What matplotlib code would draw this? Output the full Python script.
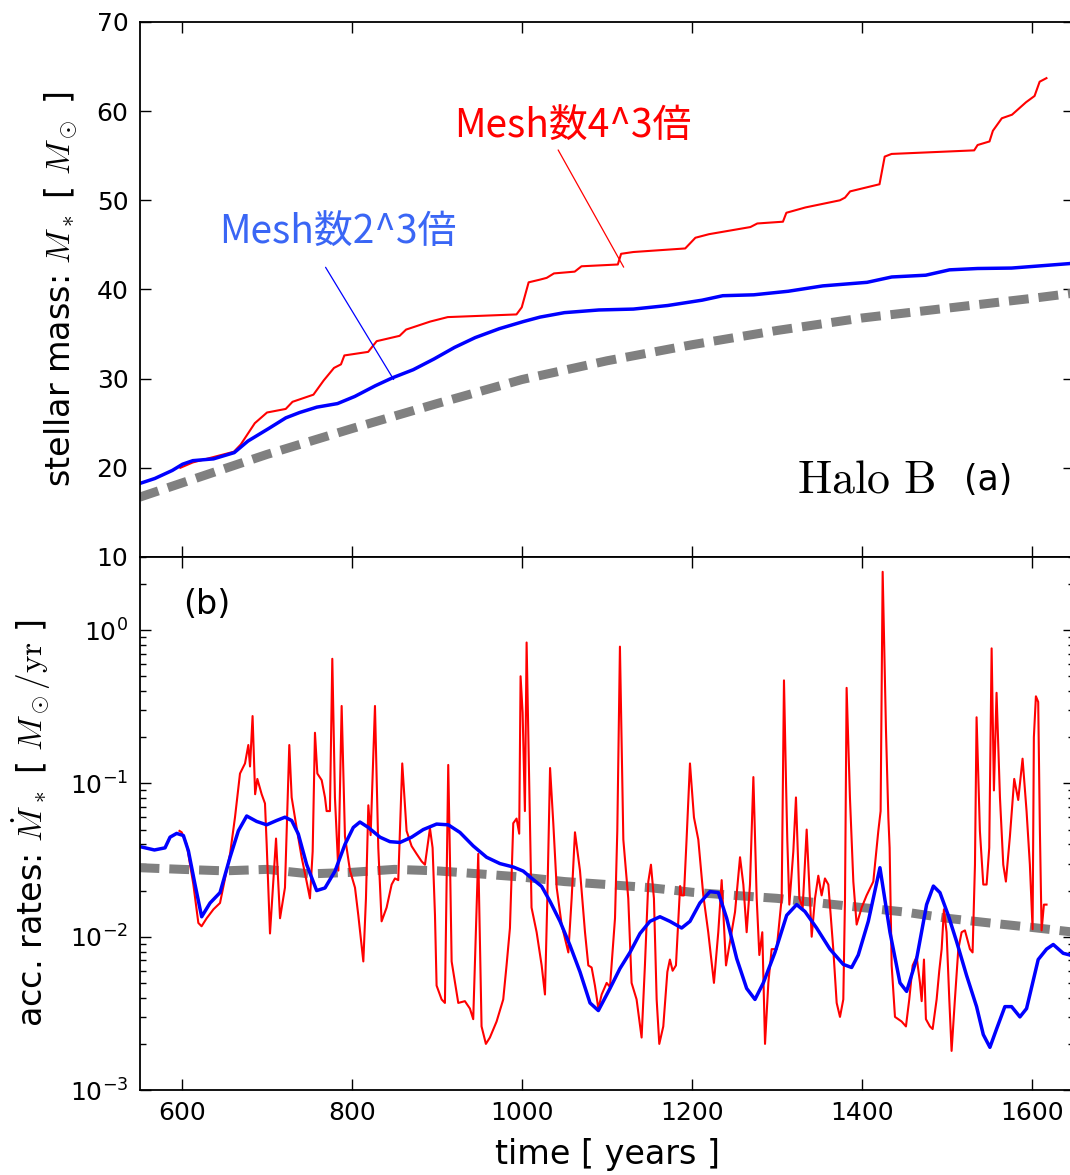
import matplotlib
matplotlib.use('Agg')
import matplotlib.pyplot as plt
import numpy as np

plt.rcParams['mathtext.fontset'] = 'cm'
plt.rcParams['font.family'] = 'DejaVu Sans'

# ---- stellar mass (top panel) ----
t_mass_ref = [550, 600, 700, 800, 900, 1000, 1100, 1200, 1300, 1400, 1500, 1600, 1650]
mass_ref = [16.7, 18.3, 21.5, 24.4, 27.2, 29.9, 32.0, 33.8, 35.4, 36.8, 37.9, 39.0, 39.6]

t_mass_2 = [549, 568, 588.5, 600.6, 612.7, 637, 661.4, 677.6, 701.9, 722.1, 738.4, 758.6,
            782.9, 803.2, 827.4, 847.8, 872, 896.4, 920.6, 944.9, 973.3, 1001.6, 1021.2,
            1049.9, 1090.5, 1131, 1171.4, 1212, 1236.2, 1272.7, 1313.3, 1353.8, 1406, 1435,
            1475, 1503, 1536, 1576, 1644, 1650]
mass_2 = [18.2, 18.8, 19.7, 20.4, 20.8, 21.0, 21.7, 23.0, 24.4, 25.6, 26.2, 26.8,
          27.2, 28.0, 29.2, 30.1, 31.0, 32.2, 33.5, 34.6, 35.6, 36.4, 36.9,
          37.4, 37.7, 37.8, 38.2, 38.8, 39.3, 39.4, 39.8, 40.4, 40.8, 41.4,
          41.6, 42.2, 42.35, 42.4, 42.9, 43.0]

t_mass_4 = [598, 612.7, 661, 669, 685.6, 700, 722, 730, 754.6, 766.7, 778.8, 787, 791, 819,
            829, 856, 863.6, 892, 912.6, 993.5, 999.7, 1007.8, 1021, 1029, 1037.6, 1062, 1070,
            1112.7, 1116.6, 1131, 1192, 1204, 1220, 1268.7, 1276.8, 1307, 1311, 1333.5, 1374,
            1380, 1386, 1420.6, 1426.7, 1434.8, 1532, 1536, 1550, 1554, 1564.5, 1576.5, 1593,
            1603, 1609, 1617]
mass_4 = [20.0, 20.6, 21.8, 22.6, 25.0, 26.2, 26.6, 27.4, 28.2, 29.8, 31.2, 31.6, 32.6, 33.0,
          34.2, 34.8, 35.5, 36.4, 36.9, 37.2, 38.0, 40.8, 41.1, 41.3, 41.8, 42.0, 42.6,
          42.8, 44.0, 44.2, 44.6, 45.8, 46.2, 47.0, 47.4, 47.6, 48.6, 49.2, 50.0,
          50.3, 51.0, 51.8, 54.9, 55.2, 55.6, 56.2, 56.6, 57.8, 59.2, 59.6, 61.0,
          61.7, 63.3, 63.7]

# ---- accretion rates (bottom panel) ----
t_rate_ref = [550, 600, 650, 700, 750, 800, 850, 900, 950, 1000, 1050, 1100, 1150, 1200,
              1250, 1300, 1350, 1400, 1450, 1500, 1550, 1600, 1650]
rate_ref = [0.0282, 0.0275, 0.0269, 0.0275, 0.0257, 0.0263, 0.0275, 0.0269, 0.0257, 0.0245,
            0.0229, 0.0219, 0.0209, 0.0195, 0.0186, 0.0178, 0.0166, 0.0155, 0.0145, 0.0132,
            0.0123, 0.0115, 0.0107]

t_rate_2 = [548, 567.5, 580, 585.9, 593.7, 601.6, 607.5, 615.3, 623.1, 633, 644.7, 656.5,
            666.3, 676.1, 687.8, 699.6, 711.3, 721.1, 729, 736.8, 746.6, 758.4, 768.2, 780,
            791.7, 801.5, 809.3, 819.2, 832.9, 844.6, 856.4, 870.1, 883.8, 899.5, 913.2,
            926.96, 942.6, 958.3, 974, 989.7, 1001.4, 1011.2, 1023.1, 1033, 1044.7, 1056.4,
            1068.2, 1080, 1089.8, 1103.5, 1115.2, 1127, 1138.8, 1150.5, 1162.3, 1174, 1187.8,
            1197.6, 1209.3, 1221.1, 1231, 1240.8, 1252.6, 1264.3, 1274.1, 1283.9, 1297.6,
            1311.4, 1323.1, 1332.9, 1346.6, 1362.3, 1378, 1387.8, 1395.6, 1407.4, 1421.1,
            1432.9, 1444.7, 1452.5, 1464.3, 1476, 1484, 1491.7, 1501.5, 1511.3, 1523, 1534.8,
            1542.7, 1550.5, 1558.3, 1568.1, 1576, 1585.8, 1593.6, 1607.3, 1617.1, 1625,
            1636.7, 1644.6, 1650]
rate_2 = [0.039, 0.0368, 0.038, 0.0446, 0.0472, 0.0457, 0.0363, 0.0219, 0.0135, 0.0166,
          0.0194, 0.0330, 0.0491, 0.0613, 0.0565, 0.0537, 0.0573, 0.0602, 0.0573, 0.0468,
          0.0296, 0.0200, 0.0208, 0.0268, 0.0400, 0.0516, 0.0560, 0.0516, 0.0446, 0.0417,
          0.0412, 0.0446, 0.0500, 0.0543, 0.0537, 0.0479, 0.0391, 0.0330, 0.0300, 0.0285,
          0.0268, 0.0241, 0.0213, 0.0170, 0.0126, 0.0088, 0.0059, 0.0037, 0.0033, 0.0046,
          0.0062, 0.0079, 0.0105, 0.0126, 0.0135, 0.0126, 0.0114, 0.0126, 0.0166, 0.0197,
          0.0194, 0.0132, 0.0072, 0.0046, 0.0039, 0.0050, 0.0079, 0.0138, 0.0162, 0.0146,
          0.0114, 0.0083, 0.0066, 0.0063, 0.0076, 0.0126, 0.0282, 0.0107, 0.0050, 0.0044,
          0.0072, 0.0162, 0.0214, 0.0194, 0.0138, 0.0093, 0.0056, 0.0035, 0.0023, 0.0019,
          0.0025, 0.0035, 0.0035, 0.0030, 0.0034, 0.0071, 0.0083, 0.0089, 0.0078, 0.0076,
          0.0073]

t_rate_4 = [597, 599.6, 605.5, 613.3, 619.2, 623, 629, 637, 644.7, 656.5, 662.3, 668.2, 674.1,
            678, 680, 683, 686, 688.6, 693.7, 697.6, 699.6, 703.5, 707.4, 710.6, 715.3, 721.1,
            726.2, 729, 734.9, 740.7, 746.6, 750.5, 753.7, 756.4, 759.2, 764.3, 768.2, 770.1,
            774, 776.8, 779.9, 783.9, 787.8, 791.7, 797.6, 803.5, 807.4, 813.3, 816.4, 819.2,
            821.9, 827, 830.9, 834.8, 840.7, 846.6, 850.5, 854.4, 859.1, 864.2, 870.1, 876,
            881.9, 885.8, 891.7, 894.8, 897.6, 899.5, 905.4, 909.3, 913.2, 915.2, 917.2, 925,
            932.8, 938.7, 942.6, 948.5, 952.4, 957.5, 962.2, 970.1, 977.9, 981.8, 985.8, 989.7,
            993.6, 996.7, 998.3, 1000.7, 1003.4, 1005.4, 1011.2, 1017.2, 1023.1, 1027, 1029.8,
            1033, 1036.8, 1040.8, 1046.6, 1054.5, 1058.4, 1062.3, 1068.2, 1074.1, 1078, 1081.9,
            1085.8, 1089.8, 1093.7, 1099.6, 1103.5, 1109.4, 1112.1, 1115.2, 1119.2, 1125,
            1128.9, 1134.8, 1140.7, 1144.6, 1148.6, 1151.7, 1155.2, 1158.4, 1161.5, 1166.2,
            1171, 1174, 1177.2, 1181.1, 1186, 1187.8, 1190.5, 1193.6, 1197.6, 1202.3, 1207.4,
            1213.3, 1219.1, 1225.8, 1230.9, 1234.9, 1240, 1244.7, 1250.6, 1256.5, 1260.4,
            1264.3, 1268.2, 1272.2, 1276.1, 1279.2, 1282.7, 1285.9, 1289.8, 1293.7, 1299.6,
            1303.5, 1305.5, 1308.2, 1310.6, 1312.1, 1314.5, 1319.2, 1322.3, 1326.3, 1330.2,
            1334.9, 1340.8, 1344.7, 1348.6, 1352.5, 1356.4, 1360.4, 1366.2, 1370.2, 1374.1,
            1378, 1380, 1381.9, 1385.8, 1389.8, 1393.7, 1399.6, 1405.4, 1413.3, 1419.2, 1421.9,
            1424.3, 1428.2, 1431, 1432.5, 1434.9, 1438.8, 1446.6, 1451.7, 1455.6, 1459.6,
            1464.3, 1468.2, 1470.2, 1472.9, 1475.2, 1479.9, 1483.1, 1487.8, 1490.9, 1493.7,
            1496.4, 1499.5, 1502.7, 1505.4, 1509.3, 1513.3, 1517.2, 1521.1, 1527, 1530.1,
            1532.9, 1534.8, 1538.7, 1542.7, 1546.6, 1549.7, 1552.5, 1555.2, 1558.3, 1562.3,
            1566.2, 1569.3, 1574.0, 1579.1, 1583.8, 1588.9, 1593.6, 1597.5, 1600.7, 1602.2,
            1604.6, 1607.3, 1609.3, 1611.3, 1614, 1617.1]
rate_4 = [0.049, 0.048, 0.040, 0.022, 0.0123, 0.0117, 0.0132, 0.0151, 0.0166, 0.0347, 0.060,
          0.116, 0.135, 0.178, 0.129, 0.275, 0.085, 0.107, 0.085, 0.074, 0.040, 0.0105, 0.0229,
          0.0437, 0.0132, 0.0209, 0.178, 0.081, 0.051, 0.033, 0.0229, 0.0178, 0.036, 0.214,
          0.116, 0.105, 0.081, 0.066, 0.066, 0.65, 0.081, 0.027, 0.32, 0.045, 0.027, 0.0209,
          0.0138, 0.0069, 0.0178, 0.072, 0.046, 0.32, 0.038, 0.0126, 0.0155, 0.0219, 0.024,
          0.0234, 0.135, 0.049, 0.039, 0.0347, 0.031, 0.0295, 0.051, 0.038, 0.0138, 0.0048,
          0.0039, 0.0037, 0.132, 0.033, 0.0069, 0.0037, 0.0038, 0.0034, 0.0029, 0.0347, 0.0026,
          0.0020, 0.0022, 0.0028, 0.0039, 0.0065, 0.0114, 0.055, 0.059, 0.047, 0.50, 0.29,
          0.066, 0.83, 0.0155, 0.0107, 0.0065, 0.0042, 0.0178, 0.126, 0.055, 0.0209, 0.0120,
          0.0079, 0.0178, 0.048, 0.027, 0.0107, 0.0065, 0.0063, 0.0048, 0.0034, 0.0042, 0.0050,
          0.0047, 0.0132, 0.049, 0.78, 0.043, 0.0178, 0.0050, 0.0039, 0.0022, 0.0065, 0.0229,
          0.0295, 0.0178, 0.0039, 0.0020, 0.0026, 0.0059, 0.0071, 0.0060, 0.0065, 0.0214,
          0.0186, 0.0186, 0.043, 0.135, 0.060, 0.043, 0.0186, 0.0107, 0.0050, 0.0107, 0.0234,
          0.0065, 0.0093, 0.0145, 0.033, 0.0219, 0.0107, 0.0219, 0.110, 0.0178, 0.0076, 0.0107,
          0.0020, 0.0050, 0.0083, 0.0083, 0.0138, 0.0178, 0.47, 0.102, 0.043, 0.0162, 0.036,
          0.081, 0.0178, 0.0155, 0.050, 0.0100, 0.0178, 0.025, 0.0186, 0.024, 0.0219, 0.0083,
          0.0037, 0.0030, 0.0039, 0.0178, 0.42, 0.081, 0.0229, 0.0120, 0.0155, 0.0186, 0.0229,
          0.049, 0.066, 2.4, 0.224, 0.060, 0.038, 0.0065, 0.0030, 0.0028, 0.0026, 0.0039,
          0.0065, 0.0074, 0.0050, 0.0038, 0.0071, 0.0029, 0.0026, 0.0025, 0.0039, 0.0060,
          0.0083, 0.0151, 0.0107, 0.0039, 0.0018, 0.0039, 0.0083, 0.0107, 0.0110, 0.0083,
          0.0079, 0.0295, 0.27, 0.049, 0.0219, 0.0219, 0.038, 0.76, 0.090, 0.39, 0.081, 0.0295,
          0.0229, 0.045, 0.107, 0.078, 0.145, 0.066, 0.0295, 0.0112, 0.20, 0.37, 0.34, 0.049,
          0.0110, 0.0162, 0.0162]

fig = plt.figure(figsize=(10.7, 11.75), dpi=100)
ax1 = fig.add_axes([0.1304, 0.526, 0.8738, 0.4553])
ax2 = fig.add_axes([0.1304, 0.0723, 0.8738, 0.4537])

gray_dash = (0, (2.2, 1.1))

# top: stellar mass
ax1.plot(t_mass_ref, mass_ref, color='#808080', lw=6.5, ls=gray_dash)
ax1.plot(t_mass_4, mass_4, color='red', lw=1.5)
ax1.plot(t_mass_2, mass_2, color='blue', lw=2.5)
ax1.set_xlim(550, 1650)
ax1.set_ylim(10, 70)
ax1.set_yticks(np.arange(10, 71, 10))
ax1.set_xticks(np.arange(600, 1601, 200))
ax1.set_xticklabels([])
ax1.set_ylabel(r'stellar mass: $M_*$ [ $M_\odot$ ]', fontsize=24, labelpad=12)
ax1.text(0.851, 0.144, r'$\rm Halo\ B$', transform=ax1.transAxes,
         fontsize=33, ha='right', va='center')
ax1.text(0.933, 0.144, '(a)', transform=ax1.transAxes,
         fontsize=25, ha='right', va='center')

cjk = ['Noto Sans CJK JP', 'DejaVu Sans']
ax1.annotate('Mesh数4^3倍', xy=(1119.6, 42.5), xytext=(920.6, 58.2),
             color='red', fontsize=28, family=cjk, va='center', ha='left',
             arrowprops=dict(arrowstyle='-', color='red', lw=0.9,
                             shrinkA=0, shrinkB=0, relpos=(0.43, 0.0)))
ax1.annotate('Mesh数2^3倍', xy=(849, 29.9), xytext=(643.2, 46.3),
             color='#3a66f5', fontsize=28, family=cjk, va='center', ha='left',
             arrowprops=dict(arrowstyle='-', color='blue', lw=0.9,
                             shrinkA=0, shrinkB=0, relpos=(0.45, -0.35)))

# bottom: accretion rates
ax2.plot(t_rate_ref, rate_ref, color='#808080', lw=6.5, ls=gray_dash)
ax2.plot(t_rate_4, rate_4, color='red', lw=1.5)
ax2.plot(t_rate_2, rate_2, color='blue', lw=2.5)
ax2.set_yscale('log')
ax2.set_xlim(550, 1650)
ax2.set_ylim(1e-3, 3)
ax2.set_xticks(np.arange(600, 1601, 200))
ax2.set_xlabel('time [ years ]', fontsize=24, labelpad=9)
ax2.set_ylabel(r'acc. rates: $\dot M_*$ [ $M_\odot/{\rm yr}$ ]', fontsize=24, labelpad=12)
ax2.text(0.0465, 0.91, '(b)', transform=ax2.transAxes, fontsize=24,
         ha='left', va='center')

for ax in (ax1, ax2):
    ax.tick_params(which='both', direction='in', top=True, right=True, labelsize=18,
                   pad=8)
    ax.tick_params(which='major', length=8, width=1)
    ax.tick_params(which='minor', length=4, width=1)
    for s in ax.spines.values():
        s.set_linewidth(1.3)

fig.savefig('out.png', dpi=100)
